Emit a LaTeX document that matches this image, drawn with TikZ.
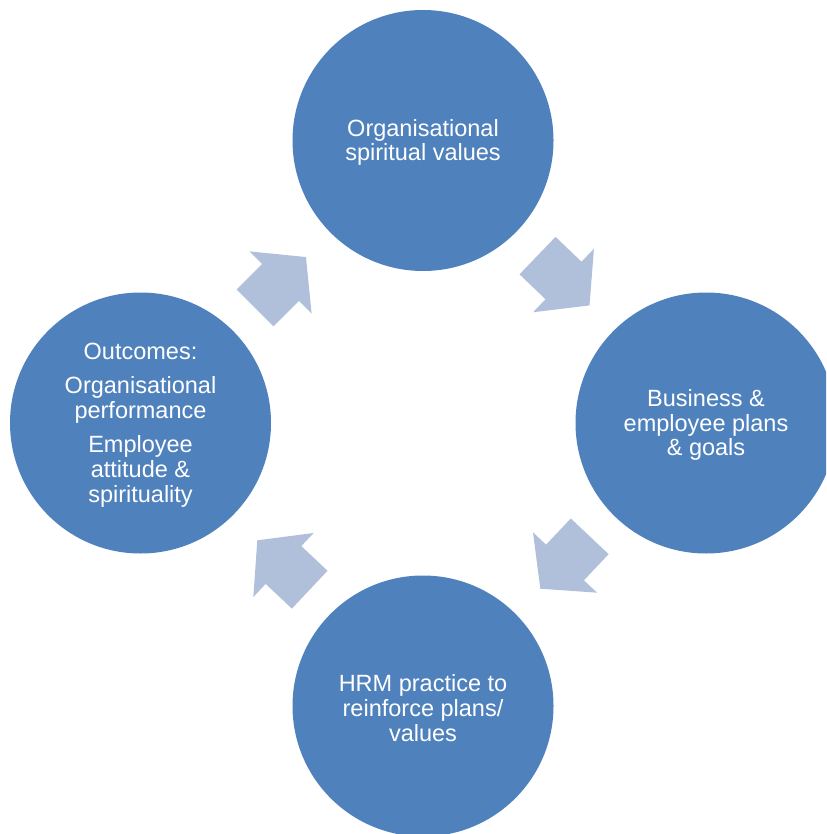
\documentclass[tikz,border=0pt]{standalone}
\usepackage{fontspec}
\setmainfont{Liberation Sans}
\definecolor{discblue}{HTML}{4F81BD}
\definecolor{arrowblue}{RGB}{176,192,218}
\begin{document}
\begin{tikzpicture}[x=1pt,y=-1pt,
  disc/.style={circle,fill=discblue,minimum size=261pt,inner sep=0pt},
  caption/.style={text=white,align=center,inner sep=0pt,
    font=\fontsize{23.5}{24.7}\selectfont},
  blockarrow/.pic={\fill[arrowblue] (-36,-26) -- (0,-26) -- (0,-44) -- (36,0)
    -- (0,44) -- (0,26) -- (-36,26) -- cycle;}]
\clip (0,0) rectangle (826,834);

% the four stages of the cycle
\node[disc] (values)   at (423,140.5) {};
\node[disc] (plans)    at (706,423)   {};
\node[disc] (hrm)      at (423,706)   {};
\node[disc] (outcomes) at (140.5,423) {};

% stage texts, set a little below each disc centre
\node[caption] (values-text)   at ([yshift=-2pt]values.center)   {Organisational\\spiritual values};
\node[caption] (plans-text)    at ([yshift=-2pt]plans.center)    {Business \&\\employee plans\\\& goals};
\node[caption] (hrm-text)      at ([yshift=-2pt]hrm.center)      {HRM practice to\\reinforce plans/\\values};
\node[caption] (outcomes-text) at ([yshift=-2pt]outcomes.center) {Outcomes:\\[9.5pt]Organisational\\performance\\[9.5pt]Employee\\attitude \&\\spirituality};

% block arrows running clockwise between the stages
\pic[rotate=45]     at (280.5,282.5) {blockarrow};
\pic[rotate=-43.8]  at (563.5,280.5) {blockarrow};
\pic[rotate=-133.3] at (565,562.5)   {blockarrow};
\pic[rotate=136.7]  at (283.5,565)   {blockarrow};
\end{tikzpicture}
\end{document}
